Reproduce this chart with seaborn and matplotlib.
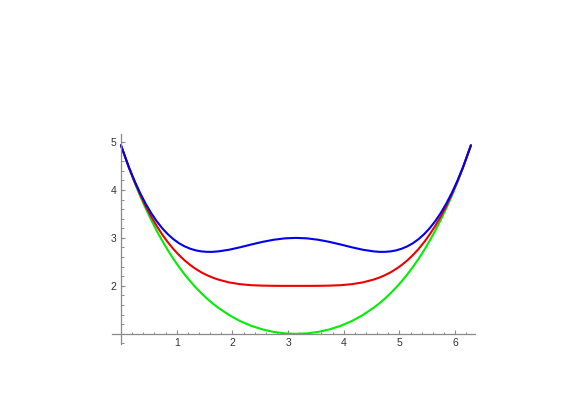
import matplotlib
matplotlib.use("Agg")
import matplotlib.pyplot as plt
from matplotlib.ticker import FixedLocator
import seaborn as sns
import pandas as pd

# ---- data ----
x_vals = [0.0, 0.1416, 0.2416, 0.3416, 0.4416, 0.5416, 0.6416, 0.7416, 0.8416,
          0.9416, 1.0416, 1.1416, 1.2416, 1.3416, 1.4416, 1.5416, 1.6416,
          1.7416, 1.9416, 2.1416, 2.3416, 2.5416, 2.7416, 2.9416, 3.1416,
          3.3416, 3.5416, 3.7416, 3.9416, 4.1416, 4.3416, 4.5416, 4.6416,
          4.7416, 4.8416, 4.9416, 5.0416, 5.1416, 5.2416, 5.3416, 5.4416,
          5.5416, 5.6416, 5.7416, 5.8416, 5.9416, 6.0416, 6.1416, 6.2832]

green_vals = [4.929, 4.465, 4.163, 3.882, 3.620, 3.376, 3.148, 2.938, 2.742,
              2.561, 2.394, 2.240, 2.098, 1.968, 1.848, 1.738, 1.638,
              1.548, 1.391, 1.265, 1.166, 1.092, 1.040, 1.010, 1.000,
              1.010, 1.040, 1.092, 1.166, 1.265, 1.391, 1.548, 1.638,
              1.738, 1.848, 1.968, 2.098, 2.240, 2.394, 2.561, 2.742,
              2.938, 3.148, 3.376, 3.620, 3.882, 4.163, 4.465, 4.929]

red_vals = [4.929, 4.470, 4.178, 3.911, 3.668, 3.447, 3.248, 3.069, 2.909,
            2.767, 2.642, 2.532, 2.436, 2.354, 2.283, 2.224, 2.174,
            2.133, 2.072, 2.035, 2.014, 2.005, 2.001, 2.000, 2.000,
            2.000, 2.001, 2.005, 2.014, 2.035, 2.072, 2.133, 2.174,
            2.224, 2.283, 2.354, 2.436, 2.532, 2.642, 2.767, 2.909,
            3.069, 3.248, 3.447, 3.668, 3.911, 4.178, 4.470, 4.929]

blue_vals = [4.929, 4.475, 4.192, 3.940, 3.716, 3.519, 3.347, 3.200, 3.076,
             2.973, 2.889, 2.824, 2.775, 2.740, 2.719, 2.709, 2.709,
             2.718, 2.753, 2.805, 2.863, 2.917, 2.961, 2.990, 3.000,
             2.990, 2.961, 2.917, 2.863, 2.805, 2.753, 2.718, 2.709,
             2.709, 2.719, 2.740, 2.775, 2.824, 2.889, 2.973, 3.076,
             3.200, 3.347, 3.519, 3.716, 3.940, 4.192, 4.475, 4.929]

x_major = [1, 2, 3, 4, 5, 6]
y_major = [2, 3, 4, 5]
x_minor = [round(0.2 * i, 1) for i in range(1, 32) if i % 5 != 0]
y_minor = [round(0.2 * i, 1) for i in range(4, 26) if i % 5 != 0]

series_names = ["green", "red", "blue"]
series_colors = {"green": "#00ee00", "red": "#ee0000", "blue": "#0000ee"}

frames = []
for name, vals in zip(series_names, [green_vals, red_vals, blue_vals]):
    frames.append(pd.DataFrame({"x": x_vals, "y": vals, "curve": name}))
df = pd.concat(frames, ignore_index=True)

# ---- styling ----
sns.set_style("white")
plt.rcParams["font.family"] = ["Liberation Sans", "DejaVu Sans"]

fig = plt.figure(figsize=(5.85, 4.13), dpi=100)
ax = fig.add_axes([0.1906, 0.1661, 0.6217, 0.51])

sns.lineplot(data=df, x="x", y="y", hue="curve", hue_order=series_names,
             palette=series_colors, estimator=None, sort=False,
             linewidth=1.5, legend=False, ax=ax)
for line in ax.lines:
    line.set_solid_joinstyle("round")
    line.set_solid_capstyle("round")

ax.set_xlim(-0.17, 6.36)
ax.set_ylim(0.78, 5.17)

axis_color = "#8a8a8a"
for side in ["top", "right"]:
    ax.spines[side].set_visible(False)
ax.spines["left"].set_position(("data", 0))
ax.spines["bottom"].set_position(("data", 1))
for side in ["left", "bottom"]:
    ax.spines[side].set_color(axis_color)
    ax.spines[side].set_linewidth(0.9)

ax.xaxis.set_major_locator(FixedLocator(x_major))
ax.xaxis.set_minor_locator(FixedLocator(x_minor))
ax.yaxis.set_major_locator(FixedLocator(y_major))
ax.yaxis.set_minor_locator(FixedLocator(y_minor))
ax.set_xticklabels([str(v) for v in x_major])
ax.set_yticklabels([str(v) for v in y_major])

ax.tick_params(axis="both", which="major", direction="in", length=3.2,
               width=0.8, color=axis_color, labelsize=7.5,
               labelcolor="#333333", pad=3)
ax.tick_params(axis="both", which="minor", direction="in", length=1.8,
               width=0.7, color=axis_color)
ax.tick_params(axis="x", which="both", bottom=True, top=False)
ax.tick_params(axis="y", which="both", left=True, right=False)

ax.set_xlabel("")
ax.set_ylabel("")
ax.grid(False)

fig.savefig("out.png", dpi=100)
